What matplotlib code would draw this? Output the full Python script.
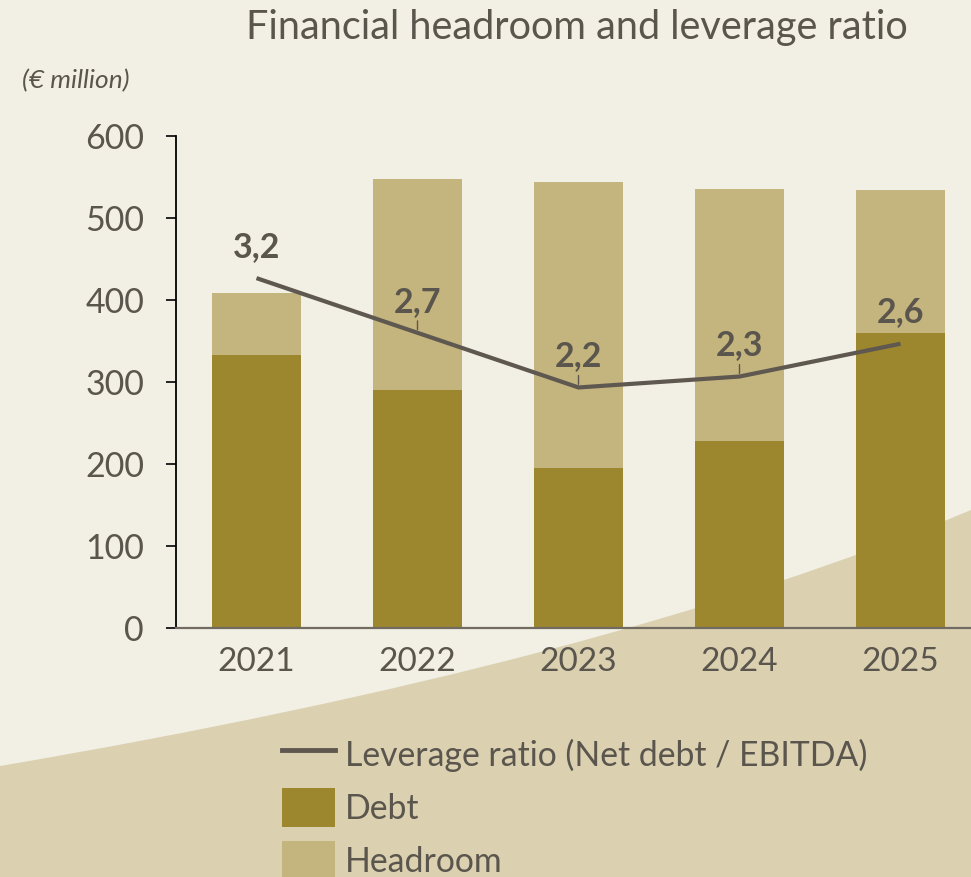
import matplotlib
matplotlib.use('Agg')
import matplotlib.pyplot as plt
from matplotlib.patches import PathPatch, Patch
from matplotlib.path import Path
from matplotlib.lines import Line2D

# ---- data ----
years = ['2021', '2022', '2023', '2024', '2025']
debt = [333, 290, 195, 228, 360]
headroom = [75, 258, 349, 307, 174]
leverage = [3.2, 2.7, 2.2, 2.3, 2.6]
leader_tick = [False, True, True, True, False]
y_ticks = [0, 100, 200, 300, 400, 500, 600]
title = 'Financial headroom and leverage ratio'
unit_label = '(€ million)'
legend_labels = ['Leverage ratio (Net debt / EBITDA)', 'Debt', 'Headroom']

# ---- style ----
BG = '#F2EFE4'
CURVE = '#DBD1B1'
DEBT = '#9C862E'
HEAD = '#C4B47D'
TXT = '#5A554D'
LINE = '#5E5850'

plt.rcParams['font.family'] = ['Lato', 'DejaVu Sans']

W, H = 971, 877
fig = plt.figure(figsize=(W / 100, H / 100), dpi=100, facecolor=BG)


def fx(px):
    return px / W


def fy(py):
    return 1 - py / H


# decorative background curve
verts = [(fx(0), fy(766)), (fx(607), fy(663)), (fx(971), fy(510)),
         (fx(975), fy(880)), (fx(0), fy(880)), (fx(0), fy(766))]
codes = [Path.MOVETO, Path.CURVE3, Path.CURVE3, Path.LINETO, Path.LINETO, Path.CLOSEPOLY]
bgpatch = PathPatch(Path(verts, codes), transform=fig.transFigure,
                    facecolor=CURVE, edgecolor='none', zorder=-5)
fig.add_artist(bgpatch)

ax = fig.add_axes([fx(176), fy(628), 805 / W, 492 / H])
ax.set_facecolor('none')
x = list(range(len(years)))
ax.bar(x, debt, width=0.553, color=DEBT, zorder=2)
ax.bar(x, headroom, bottom=debt, width=0.553, color=HEAD, zorder=2)
ax.set_xlim(-0.5, 4.5)
ax.set_ylim(0, 600)
ax.set_yticks(y_ticks)
ax.set_xticks(x)
ax.set_xticklabels(years)
ax.tick_params(axis='x', length=0, pad=14, labelsize=24, labelcolor=TXT)
ax.tick_params(axis='y', length=7, width=1.2, color='black', pad=16,
               labelsize=24.5, labelcolor=TXT)
for s in ['top', 'right']:
    ax.spines[s].set_visible(False)
ax.spines['left'].set_color('black')
ax.spines['left'].set_linewidth(1.3)
ax.spines['bottom'].set_color('#716B61')
ax.spines['bottom'].set_linewidth(1.6)
ax.spines['bottom'].set_zorder(3)

ax2 = ax.twinx()
ax2.set_ylim(0, 4.5)
ax2.axis('off')
ax2.plot(x, leverage, color=LINE, lw=3, solid_capstyle='butt', zorder=4)
for i, v in enumerate(leverage):
    ax2.annotate(f'{v:.1f}'.replace('.', ','), (i, v), xytext=(0, 22.5),
                 textcoords='offset points', ha='center', va='center',
                 fontsize=24.5, fontweight='bold', color=TXT)
    if leader_tick[i]:
        ax2.annotate('', xy=(i, v), xytext=(0, 8.6), textcoords='offset points',
                     arrowprops=dict(arrowstyle='-', color=LINE, lw=1,
                                     shrinkA=0, shrinkB=2.2))

fig.text(fx(577), fy(39), title, ha='center', va='baseline', fontsize=28.5, color=TXT)
fig.text(fx(22), fy(88), unit_label, ha='left', va='baseline', fontsize=19,
         style='italic', color=TXT)

handles = [Line2D([0], [0], color=LINE, lw=3.5),
           Patch(facecolor=DEBT, edgecolor='none'),
           Patch(facecolor=HEAD, edgecolor='none')]
fig.legend(handles, legend_labels, loc='upper left', bbox_to_anchor=(fx(282), fy(735)),
           frameon=False, fontsize=24.3, handlelength=1.57, handleheight=1.4,
           labelspacing=0.42, handletextpad=0.3, borderpad=0, borderaxespad=0,
           labelcolor=TXT)

fig.savefig('out.png', dpi=100, facecolor=BG)
